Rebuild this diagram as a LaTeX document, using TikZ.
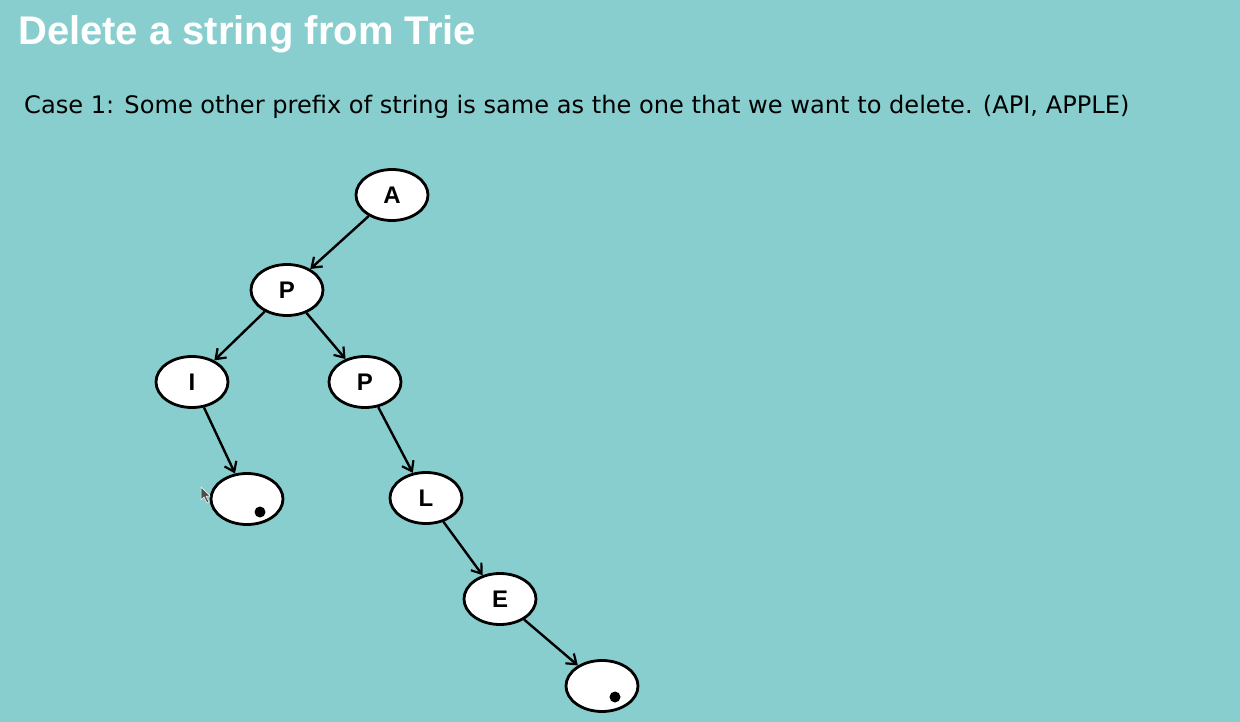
\documentclass[tikz,border=0pt]{standalone}
\usepackage{fontspec}
\setmainfont{Liberation Sans}
\newfontfamily\bodyfont{DejaVu Sans}
\usetikzlibrary{shapes.geometric,arrows.meta}
\definecolor{slidebg}{RGB}{136,206,206}
\begin{document}
\begin{tikzpicture}[x=1pt,y=-1pt,
  trienode/.style={ellipse,draw=black,line width=2.8pt,fill=white,
    minimum width=72pt,minimum height=51pt,inner sep=0pt,
    font=\fontsize{24}{24}\selectfont\bfseries},
  edge/.style={line width=2.4pt,-{Straight Barb[length=9pt,width=13pt,line width=2.2pt]}},
  enddot/.style={circle,fill=black,minimum size=11pt,inner sep=0pt}]
  % slide background
  \fill[slidebg] (0,0) rectangle (1240,722);
  \useasboundingbox (0,0) rectangle (1240,722);
  % headings
  \node[anchor=base west,inner sep=0pt,text=white,
        font=\fontsize{40}{40}\selectfont\bfseries] (title) at (18,45) {Delete a string from Trie};
  \node[anchor=base west,inner sep=0pt,text=black,
        font=\bodyfont\fontsize{24.1}{24}\selectfont] (case) at (24,114)
        {Case 1: Some other prefix of string is same as the one that we want to delete. (API, APPLE)};
  % trie nodes
  \node[trienode] (A)  at (392,195) {A};
  \node[trienode] (P1) at (287,290) {P};
  \node[trienode] (I)  at (192,382) {I};
  \node[trienode] (P2) at (365,382) {P};
  \node[trienode] (E1) at (247,499) {};
  \node[trienode] (L)  at (426,498) {L};
  \node[trienode] (E)  at (500,599) {E};
  \node[trienode] (E2) at (602,686) {};
  % end-of-word markers
  \node[enddot] (d1) at (260,512) {};
  \node[enddot] (d2) at (615,697) {};
  % edges
  \draw[edge] (A)  -- (P1);
  \draw[edge] (P1) -- (I);
  \draw[edge] (P1) -- (P2);
  \draw[edge] (I)  -- (E1);
  \draw[edge] (P2) -- (L);
  \draw[edge] (L)  -- (E);
  \draw[edge] (E)  -- (E2);
  % mouse pointer
  \fill[black!70,draw=white,line width=0.5pt] (201,487) -- (201,500) -- (204,497) -- (207,503) -- (209,502) -- (206,496) -- (210,496) -- cycle;
\end{tikzpicture}
\end{document}
